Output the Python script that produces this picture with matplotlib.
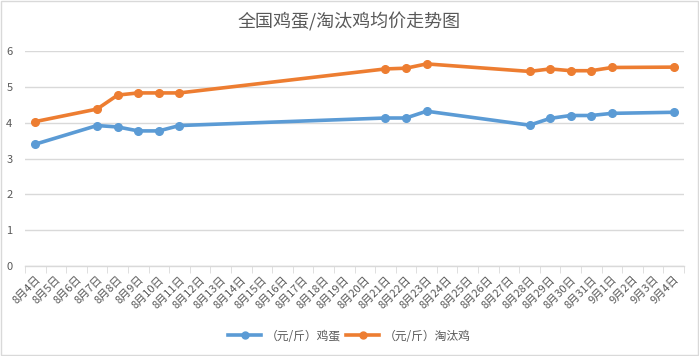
import numpy as np
import matplotlib.pyplot as plt
from matplotlib.lines import Line2D

plt.rcParams['font.family'] = ['Noto Sans CJK SC', 'DejaVu Sans']

# categories: every day from 8/4 to 9/4
dates = ["8月%d日" % d for d in range(4, 32)] + ["9月%d日" % d for d in range(1, 5)]

# days that have prices
price_dates = ["8月4日", "8月7日", "8月8日", "8月9日", "8月10日", "8月11日",
               "8月21日", "8月22日", "8月23日", "8月28日", "8月29日", "8月30日",
               "8月31日", "9月1日", "9月4日"]
egg = [3.40, 3.92, 3.88, 3.77, 3.77, 3.92,
       4.13, 4.13, 4.32, 3.93, 4.12, 4.20, 4.20, 4.26, 4.29]
hen = [4.03, 4.38, 4.77, 4.83, 4.83, 4.83,
       5.50, 5.52, 5.64, 5.43, 5.50, 5.45, 5.45, 5.54, 5.55]

names = ["（元/斤）鸡蛋", "（元/斤）淘汰鸡"]
colors = ["#5B9BD5", "#ED7D31"]

fig = plt.figure(figsize=(6.99, 3.56), dpi=100)
ax = fig.add_axes([25 / 699, 1 - 266 / 356, (684 - 25) / 699, (266 - 51) / 356])

xi = [dates.index(d) for d in price_dates]
for vals, c in zip([egg, hen], colors):
    ax.plot(xi, vals, color=c, lw=2.6, marker='o', ms=5.5, solid_capstyle='round', zorder=3)

ax.set_xlim(-0.5, len(dates) - 0.5)
ax.set_ylim(0, 6)
ax.set_yticks(range(0, 7))
ax.grid(axis='y', color='#d9d9d9', lw=1)
ax.set_axisbelow(True)
for s in ['top', 'right', 'left']:
    ax.spines[s].set_visible(False)
ax.spines['bottom'].set_color('#d9d9d9')
ax.spines['bottom'].set_linewidth(1)

ax.set_xticks(range(len(dates)))
ax.set_xticklabels(dates, rotation=45, ha='right', rotation_mode='anchor', fontsize=8, color='#595959')
ax.tick_params(axis='x', which='major', length=0, pad=6)
ax.set_xticks(np.arange(-0.5, len(dates), 1), minor=True)
ax.tick_params(axis='x', which='minor', length=5, color='#d9d9d9')
ax.tick_params(axis='y', length=0, labelsize=8, labelcolor='#595959', pad=9)

fig.text(0.5, 1 - 22 / 356, "全国鸡蛋/淘汰鸡均价走势图", ha='center', va='center', fontsize=13, color='#595959')

handles = [Line2D([0], [0], color=c, lw=2.6, marker='o', ms=5) for c in colors]
fig.legend(handles, names, loc='center', bbox_to_anchor=(0.5, 1 - 336 / 356), ncol=2, frameon=False,
           fontsize=8.5, labelcolor='#595959', handlelength=2.8, columnspacing=0.4, handletextpad=0.4)

# chart border
fig.patches.append(plt.Rectangle((0.001, 0.002), 0.997, 0.996, transform=fig.transFigure,
                                 fill=False, edgecolor='#d9d9d9', lw=1))

fig.savefig("out.png", dpi=100)
